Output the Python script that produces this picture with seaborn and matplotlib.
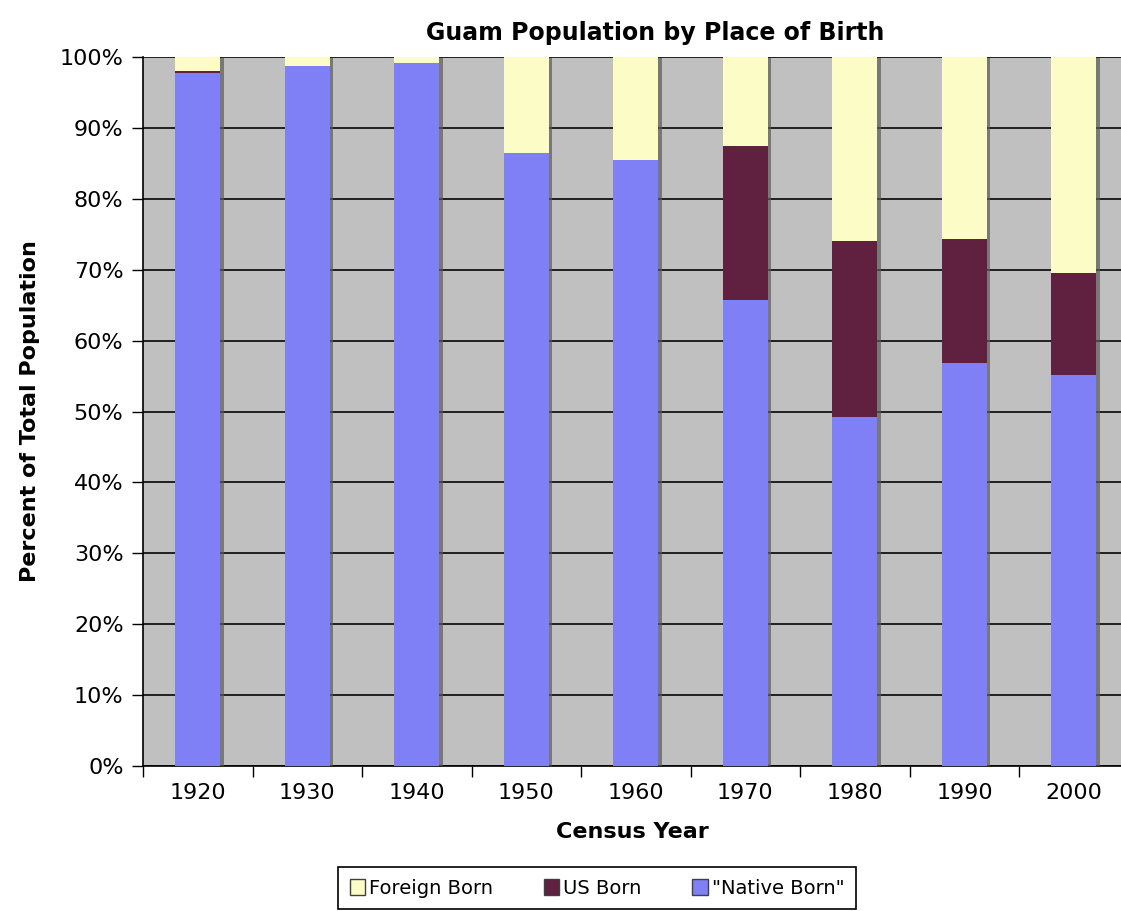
import matplotlib
matplotlib.use("Agg")
import matplotlib.pyplot as plt
import matplotlib.patheffects as pe
from matplotlib.patches import Patch
import seaborn as sns
import pandas as pd
import numpy as np

years = ["1920", "1930", "1940", "1950", "1960", "1970", "1980", "1990", "2000"]
native_born = [97.7, 98.7, 99.1, 86.4, 85.5, 65.7, 49.2, 56.9, 55.1]
us_born = [0.3, 0.0, 0.0, 0.0, 0.0, 21.7, 24.9, 17.4, 14.4]
foreign_born = [2.0, 1.3, 0.9, 13.6, 14.5, 12.6, 25.9, 25.7, 30.5]

df = pd.DataFrame({"year": years, "native": native_born, "us": us_born, "foreign": foreign_born})
df["native_us"] = df["native"] + df["us"]
df["total"] = df["native_us"] + df["foreign"]

c_native = "#8080F6"
c_us = "#60203F"
c_foreign = "#FCFCC6"

sns.set_theme(style="white")
plt.rcParams["font.family"] = ["DejaVu Sans"]
plt.rcParams["text.color"] = "black"
plt.rcParams["axes.labelcolor"] = "black"
plt.rcParams["xtick.color"] = "black"
plt.rcParams["ytick.color"] = "black"

fig = plt.figure(figsize=(11.21, 9.11), dpi=100)
ax = fig.add_axes([143 / 1121, 145 / 911, 1 - 143 / 1121, (766 - 57) / 911])
ax.set_facecolor("#C0C0C0")

shadow = [pe.SimplePatchShadow(offset=(2.5, -1), shadow_rgbFace="#5a5a5a", alpha=0.7), pe.Normal()]
for col, color in [("total", c_foreign), ("native_us", c_us), ("native", c_native)]:
    sns.barplot(data=df, x="year", y=col, color=color, width=0.41, ax=ax,
                saturation=1, edgecolor="none", linewidth=0, zorder=3)

for p in ax.patches[:len(years)]:
    p.set_path_effects(shadow)

ax.set_xlim(-0.5, 8.43)
ax.set_ylim(0, 100)
ax.set_yticks(np.arange(0, 101, 10))
ax.set_yticklabels([f"{v}%" for v in range(0, 101, 10)], fontsize=16)
ax.yaxis.grid(True, color="#202020", linewidth=1.4, zorder=1)
ax.set_axisbelow(True)
ax.set_xticks(np.arange(-0.5, 8.5, 1), minor=True)
ax.set_xticks(np.arange(len(years)))
ax.set_xticklabels(years, fontsize=16)
ax.tick_params(axis="x", which="major", length=0, pad=12)
ax.tick_params(axis="x", which="minor", length=8, width=1, color="black", direction="out", bottom=True)
ax.tick_params(axis="y", length=8, width=1, color="black", direction="out", left=True, pad=6)

for s in ["top", "right"]:
    ax.spines[s].set_visible(False)
ax.spines["left"].set_color("black")
ax.spines["bottom"].set_color("black")
ax.spines["left"].set_linewidth(1.2)
ax.spines["bottom"].set_linewidth(1.2)

ax.set_xlabel("Census Year", fontsize=16, fontweight="bold", labelpad=14, color="black")
ax.set_ylabel("Percent of Total Population", fontsize=16, fontweight="bold", labelpad=14, color="black")
fig.text(655 / 1121, 1 - 33 / 911, "Guam Population by Place of Birth", fontsize=17,
         fontweight="bold", ha="center", va="center", color="black")

handles = [Patch(facecolor=c_foreign, edgecolor="#404040", label="Foreign Born"),
           Patch(facecolor=c_us, edgecolor="#404040", label="US Born"),
           Patch(facecolor=c_native, edgecolor="#404040", label='"Native Born"')]
leg = fig.legend(handles=handles, loc="center", bbox_to_anchor=(597 / 1121, 1 - 888 / 911),
                 ncol=3, fontsize=14, frameon=True, fancybox=False,
                 handlelength=0.8, handleheight=0.9, handletextpad=0.2, columnspacing=2.6,
                 borderpad=0.6, framealpha=1)
leg.get_frame().set_linewidth(1.2)
leg.get_frame().set_edgecolor("black")
for t in leg.get_texts():
    t.set_color("black")

fig.savefig("out.png", dpi=100)
